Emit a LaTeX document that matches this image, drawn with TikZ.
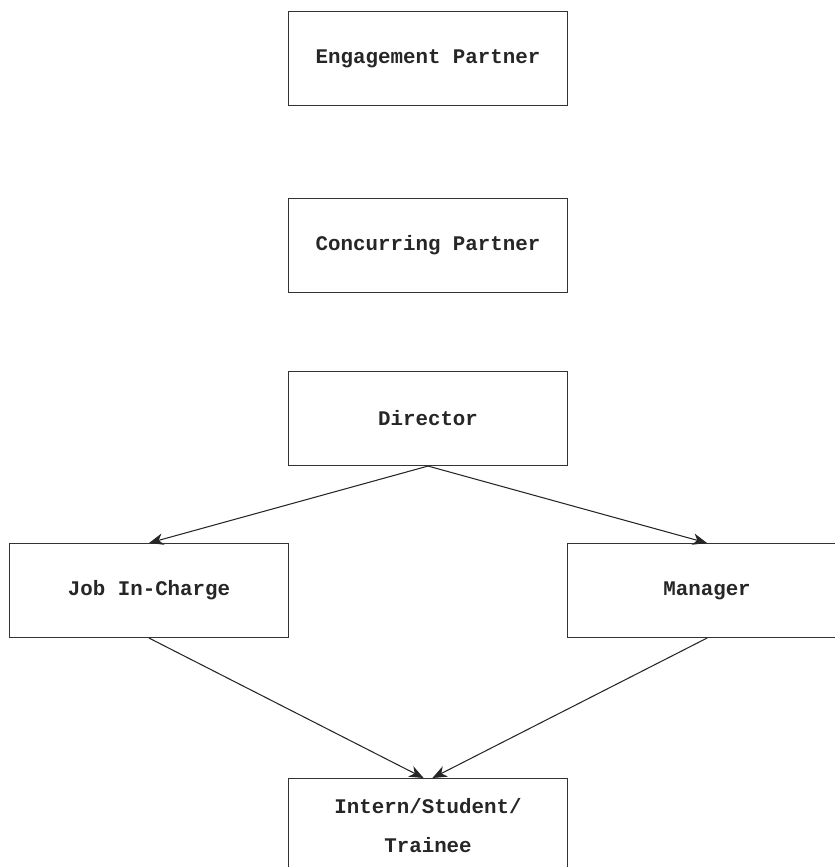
\documentclass[tikz,border=0pt]{standalone}
\usepackage{fontspec}
\usepackage{tikz}
\usetikzlibrary{arrows.meta}
\newfontfamily\postefont{Liberation Mono}
\tikzstyle{poste} = [rectangle, draw=black!80, line width=0.75pt, minimum height=2.35cm, minimum width=6.975cm, align=center, text=black!85, font=\postefont\bfseries\fontsize{14.8}{27.7}\selectfont]
\tikzstyle{lien} = [-{Stealth[length=3.6mm, width=2.9mm, inset=1.1mm]}, line width=0.75pt, black!85]

\begin{document}
\begin{tikzpicture}

        \useasboundingbox (0,0) rectangle (20.875,-21.675);

        \node (EP) [poste, anchor=north west] at (7.2,-0.275) {Engagement Partner};
        \node (CP) [poste, anchor=north west] at (7.2,-4.95) {Concurring Partner};
        \node (DIR) [poste, anchor=north west] at (7.2,-9.275) {Director};

        \node (JIC) [poste, anchor=north west] at (0.225,-13.575) {Job In-Charge};
        \node (MGR) [poste, anchor=north west] at (14.175,-13.575) {Manager};

        \node (INT) [poste, anchor=north west] at (7.2,-19.45) {Intern/Student/\\Trainee};

        \draw[lien] (DIR.south) -- (JIC.north);
        \draw[lien] (DIR.south) -- (MGR.north);
        \draw[lien] (JIC.south) -- ([xshift=-0.11cm]INT.north);
        \draw[lien] (MGR.south) -- ([xshift=0.11cm]INT.north);

    \end{tikzpicture}
\end{document}
